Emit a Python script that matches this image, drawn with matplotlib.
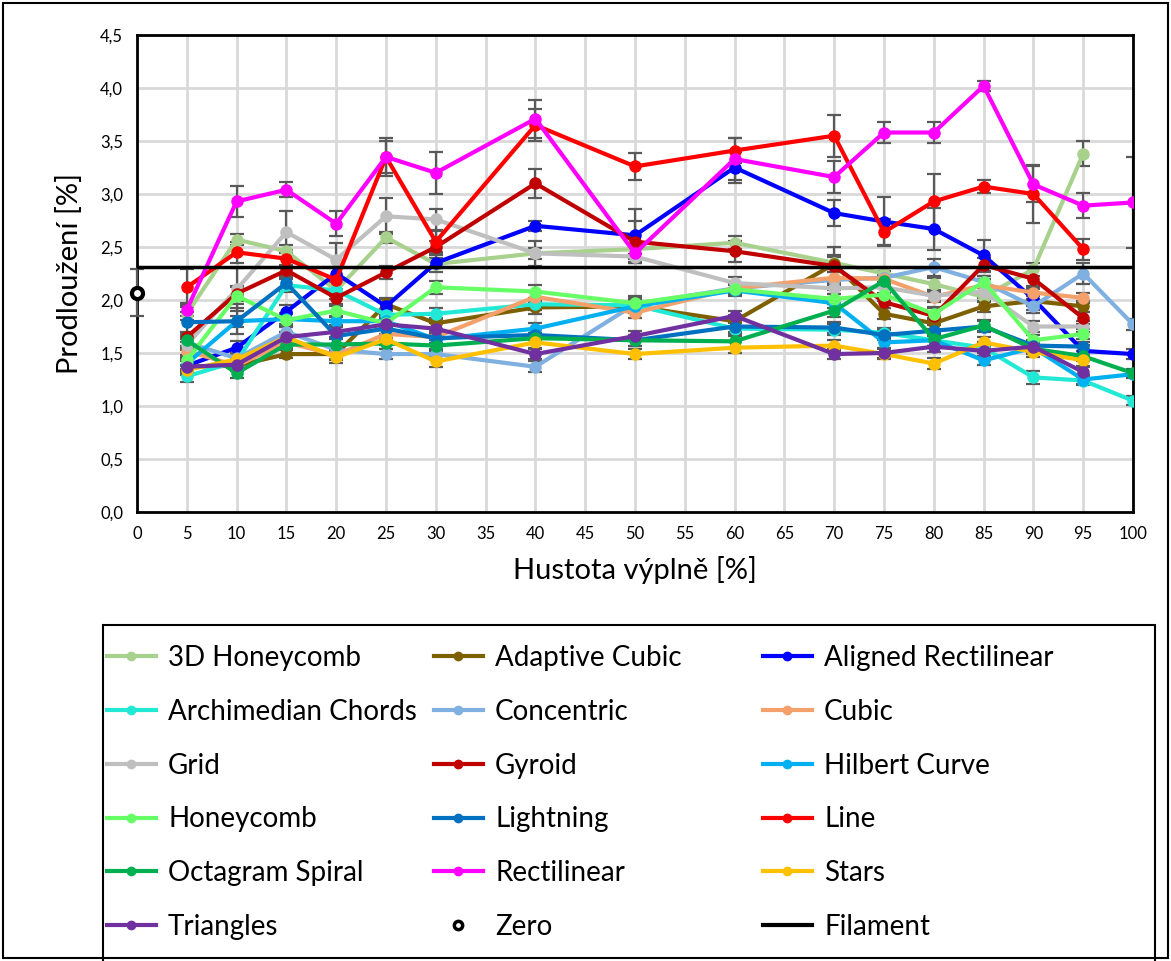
import numpy as np
import matplotlib
matplotlib.use("Agg")
import matplotlib.pyplot as plt
from matplotlib.ticker import FuncFormatter, MultipleLocator
from matplotlib.lines import Line2D
from matplotlib.patches import Rectangle

plt.rcParams['font.family'] = ['Lato', 'DejaVu Sans']

nan = np.nan
density = [5, 10, 15, 20, 25, 30, 40, 50, 60, 70, 75, 80, 85, 90, 95, 100]

honeycomb_3d = [1.87, 2.57, 2.46, 2.09, 2.59, 2.34, 2.44, 2.48, 2.54, 2.35, 2.25, 2.15, 2.03, 2.29, 3.38, nan]
adaptive_cubic = [1.37, 1.38, 1.49, 1.49, 1.96, 1.78, 1.93, 1.94, 1.80, 2.34, 1.87, 1.78, 1.94, 1.99, 1.94, nan]
aligned_rect = [1.38, 1.55, 1.89, 2.25, 1.94, 2.35, 2.70, 2.61, 3.25, 2.82, 2.74, 2.67, 2.42, 2.01, 1.52, 1.49]
archimedian = [1.28, 1.42, 2.14, 2.09, 1.86, 1.87, 1.96, 1.95, 1.73, 1.72, 1.69, 1.62, 1.55, 1.27, 1.24, 1.05]
concentric = [1.60, 1.45, 1.70, 1.53, 1.49, 1.49, 1.37, 1.96, 2.11, 2.19, 2.21, 2.31, 2.17, 1.94, 2.25, 1.77]
cubic = [1.52, 1.38, 1.60, 1.48, 1.68, 1.65, 2.03, 1.88, 2.11, 2.21, 2.20, 2.03, 2.14, 2.07, 2.02, nan]
grid = [1.58, 2.10, 2.64, 2.38, 2.79, 2.76, 2.44, 2.41, 2.16, 2.11, 2.12, 2.04, 2.08, 1.75, 1.75, nan]
gyroid = [1.65, 2.06, 2.28, 2.02, 2.26, 2.50, 3.10, 2.55, 2.46, 2.32, 1.98, 1.85, 2.33, 2.20, 1.83, nan]
hilbert = [1.40, 1.80, 1.82, 1.80, 1.80, 1.63, 1.73, 1.94, 2.09, 1.97, 1.60, 1.62, 1.43, 1.55, 1.25, 1.30]
honeycomb = [1.43, 2.04, 1.81, 1.90, 1.78, 2.12, 2.08, 1.97, 2.10, 2.01, 2.05, 1.87, 2.17, 1.62, 1.68, nan]
lightning = [1.79, 1.80, 2.16, 1.66, 1.73, 1.64, 1.67, 1.62, 1.75, 1.74, 1.67, 1.71, 1.75, 1.57, 1.56, nan]
line = [2.12, 2.45, 2.39, 2.19, 3.35, 2.55, 3.65, 3.26, 3.41, 3.55, 2.64, 2.93, 3.07, 3.00, 2.48, nan]
octagram = [1.62, 1.31, 1.58, 1.58, 1.59, 1.57, 1.64, 1.62, 1.61, 1.90, 2.18, 1.63, 1.76, 1.54, 1.47, 1.31]
rectilinear = [1.91, 2.93, 3.04, 2.72, 3.35, 3.20, 3.71, 2.44, 3.33, 3.16, 3.58, 3.58, 4.02, 3.09, 2.89, 2.92]
stars = [1.34, 1.44, 1.65, 1.46, 1.63, 1.42, 1.60, 1.49, 1.55, 1.57, 1.49, 1.40, 1.60, 1.51, 1.43, nan]
triangles = [1.37, 1.39, 1.65, 1.70, 1.77, 1.73, 1.49, 1.66, 1.85, 1.49, 1.50, 1.56, 1.52, 1.56, 1.32, nan]

# standard deviations per pattern
honeycomb_3d_err = [0.06, 0.05, 0.06, 0.08, 0.05, 0.08, 0.05, 0.05, 0.06, 0.06, 0.05, 0.06, 0.05, 0.06, 0.12, nan]
adaptive_cubic_err = [0.05, 0.05, 0.04, 0.05, 0.06, 0.05, 0.06, 0.06, 0.06, 0.08, 0.05, 0.05, 0.05, 0.05, 0.05, nan]
aligned_rect_err = [0.06, 0.06, 0.06, 0.05, 0.07, 0.05, 0.05, 0.25, 0.15, 0.12, 0.23, 0.2, 0.15, 0.1, 0.06, 0.05]
archimedian_err = [0.05, 0.05, 0.06, 0.05, 0.05, 0.05, 0.05, 0.06, 0.05, 0.05, 0.05, 0.05, 0.05, 0.06, 0.04, 0.04]
concentric_err = [0.05, 0.05, 0.07, 0.05, 0.05, 0.05, 0.05, 0.08, 0.05, 0.1, 0.06, 0.08, 0.06, 0.06, 0.1, 0.05]
cubic_err = [0.05, 0.05, 0.05, 0.05, 0.05, 0.06, 0.05, 0.05, 0.05, 0.05, 0.05, 0.05, 0.06, 0.06, 0.05, nan]
grid_err = [0.05, 0.2, 0.2, 0.16, 0.17, 0.1, 0.12, 0.06, 0.06, 0.05, 0.05, 0.05, 0.06, 0.05, 0.05, nan]
gyroid_err = [0.05, 0.07, 0.05, 0.08, 0.06, 0.06, 0.14, 0.2, 0.1, 0.18, 0.06, 0.07, 0.07, 0.1, 0.06, nan]
hilbert_err = [0.05, 0.05, 0.06, 0.05, 0.05, 0.05, 0.05, 0.05, 0.05, 0.05, 0.05, 0.05, 0.04, 0.05, 0.04, 0.04]
honeycomb_err = [0.05, 0.08, 0.06, 0.06, 0.05, 0.06, 0.06, 0.05, 0.05, 0.05, 0.06, 0.06, 0.06, 0.05, 0.05, nan]
lightning_err = [0.1, 0.12, 0.06, 0.1, 0.06, 0.05, 0.05, 0.05, 0.05, 0.05, 0.05, 0.05, 0.05, 0.05, 0.04, nan]
line_err = [0.17, 0.1, 0.08, 0.12, 0.15, 0.1, 0.15, 0.13, 0.12, 0.2, 0.12, 0.26, 0.06, 0.27, 0.1, nan]
octagram_err = [0.05, 0.05, 0.05, 0.05, 0.05, 0.05, 0.05, 0.05, 0.05, 0.06, 0.06, 0.06, 0.05, 0.05, 0.05, 0.04]
rectilinear_err = [0.06, 0.15, 0.07, 0.12, 0.18, 0.2, 0.18, 0.05, 0.2, 0.15, 0.1, 0.1, 0.05, 0.17, 0.12, 0.43]
stars_err = [0.05, 0.05, 0.05, 0.05, 0.05, 0.05, 0.05, 0.05, 0.05, 0.05, 0.05, 0.05, 0.05, 0.05, 0.05, nan]
triangles_err = [0.06, 0.05, 0.05, 0.05, 0.05, 0.05, 0.05, 0.05, 0.05, 0.05, 0.05, 0.05, 0.05, 0.05, 0.05, nan]

zero_x, zero_y, zero_err = 0, 2.07, 0.22
filament = 2.31

series = [
    ("3D Honeycomb", honeycomb_3d, honeycomb_3d_err, "#a9d18e"),
    ("Adaptive Cubic", adaptive_cubic, adaptive_cubic_err, "#7f6000"),
    ("Aligned Rectilinear", aligned_rect, aligned_rect_err, "#0000ff"),
    ("Archimedian Chords", archimedian, archimedian_err, "#22e8d6"),
    ("Concentric", concentric, concentric_err, "#7fb0e0"),
    ("Cubic", cubic, cubic_err, "#f4a06a"),
    ("Grid", grid, grid_err, "#bfbfbf"),
    ("Gyroid", gyroid, gyroid_err, "#c00000"),
    ("Hilbert Curve", hilbert, hilbert_err, "#00b0f0"),
    ("Honeycomb", honeycomb, honeycomb_err, "#66ff66"),
    ("Lightning", lightning, lightning_err, "#0070c0"),
    ("Line", line, line_err, "#ff0000"),
    ("Octagram Spiral", octagram, octagram_err, "#00b050"),
    ("Rectilinear", rectilinear, rectilinear_err, "#ff00ff"),
    ("Stars", stars, stars_err, "#ffc000"),
    ("Triangles", triangles, triangles_err, "#7030a0"),
]

fig = plt.figure(figsize=(11.71, 9.61), dpi=100)
ax = fig.add_axes([137 / 1171, 1 - 512 / 961, (1133 - 137) / 1171, (512 - 35) / 961])

colors = {}
for name, vals, errs, col in series:
    x = np.array(density, dtype=float)
    y = np.array(vals, dtype=float)
    e = np.array(errs, dtype=float)
    ok = ~np.isnan(y)
    ax.errorbar(x[ok], y[ok], yerr=e[ok], fmt='none', ecolor='#595959',
                elinewidth=1.6, capsize=5, capthick=1.6, zorder=2)
    ax.plot(x[ok], y[ok], color=col, lw=3, marker='o', markersize=8, zorder=3)
    colors[name] = col

ax.errorbar([zero_x], [zero_y], yerr=[zero_err], fmt='none', ecolor='#595959',
            elinewidth=1.6, capsize=5, capthick=1.6, clip_on=False, zorder=4)
ax.plot([zero_x], [zero_y], ls='none', marker='o', markersize=8,
        mfc='white', mec='black', mew=3, clip_on=False, zorder=5)
ax.axhline(filament, color='black', lw=2.5, zorder=4)

ax.set_xlim(0, 100)
ax.set_ylim(0, 4.5)
ax.xaxis.set_major_locator(MultipleLocator(5))
ax.yaxis.set_major_locator(MultipleLocator(0.5))
ax.yaxis.set_major_formatter(FuncFormatter(lambda v, p: f"{v:.1f}".replace('.', ',')))
ax.grid(True, color='#d9d9d9', lw=2, zorder=0)
ax.set_axisbelow(True)
ax.tick_params(length=0, labelsize=12, pad=10)
for s in ax.spines.values():
    s.set_linewidth(2)
    s.set_color('black')
ax.set_xlabel('Hustota výplně [%]', fontsize=21, labelpad=10)
ax.set_ylabel('Prodloužení [%]', fontsize=21, labelpad=12)


def legend_handle(name):
    if name == 'Filament':
        return Line2D([], [], color='black', lw=3)
    if name == 'Zero':
        return Line2D([], [], ls='none', marker='o', markersize=6,
                      mfc='white', mec='black', mew=2.5)
    return Line2D([], [], color=colors[name], lw=3, marker='o', markersize=6)


# legend as three separate columns
columns = [["3D Honeycomb", "Archimedian Chords", "Grid", "Honeycomb", "Octagram Spiral", "Triangles"],
           ["Adaptive Cubic", "Concentric", "Gyroid", "Lightning", "Rectilinear", "Zero"],
           ["Aligned Rectilinear", "Cubic", "Hilbert Curve", "Line", "Stars", "Filament"]]
col_x = [107, 434, 763]
for cx, names in zip(col_x, columns):
    leg = fig.legend([legend_handle(n) for n in names], names, frameon=False,
                     fontsize=20, loc='upper left',
                     bbox_to_anchor=(cx / 1171, 1 - 645 / 961),
                     handlelength=1.75, handletextpad=0.45,
                     labelspacing=1.0, borderpad=0, borderaxespad=0)

fig.patches.append(Rectangle((103 / 1171, -0.02), (1155 - 103) / 1171, 0.02 + (961 - 625) / 961,
                             transform=fig.transFigure, fill=False, ec='black', lw=1.5))
fig.patches.append(Rectangle((3 / 1171, 3 / 961), 1165 / 1171, 955 / 961,
                             transform=fig.transFigure, fill=False, ec='black', lw=1.5))

fig.savefig('out.png', dpi=100)
